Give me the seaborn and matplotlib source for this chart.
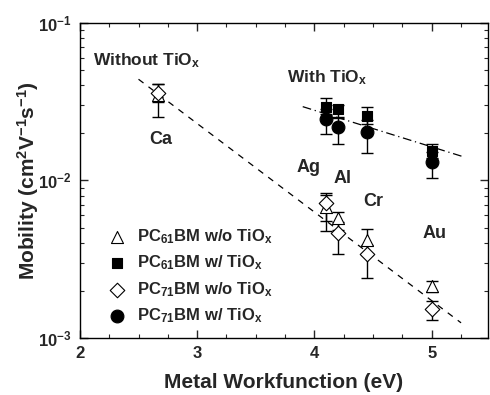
import numpy as np
import pandas as pd
import matplotlib
matplotlib.use('Agg')
import matplotlib.pyplot as plt
import seaborn as sns
from matplotlib.ticker import MultipleLocator, LogLocator

# ── Data ──
metals = ['Ca', 'Ag', 'Al', 'Cr', 'Au']
wf_all = [2.67, 4.1, 4.2, 4.45, 5.0]
wf_tio = [4.1, 4.2, 4.45, 5.0]

pc61_wo = [0.0347, 0.0068, 0.00574, 0.00418, 0.00215]
pc61_wo_lo = [0.0096, 0.0013, 0.0009, 0.0008, 0.0002]
pc61_wo_hi = [0.0060, 0.0013, 0.0006, 0.0007, 0.00016]

pc71_wo = [0.0359, 0.00715, 0.00461, 0.00341, 0.00152]
pc71_wo_lo = [0.0045, 0.0024, 0.0012, 0.0010, 0.00022]
pc71_wo_hi = [0.0050, 0.0012, 0.0008, 0.0005, 0.0002]

pc61_w = [0.0293, 0.0282, 0.0256, 0.0153]
pc61_w_lo = [0.0030, 0.0030, 0.0030, 0.0015]
pc61_w_hi = [0.0040, 0.0020, 0.0037, 0.0016]

pc71_w = [0.0244, 0.0219, 0.0202, 0.0131]
pc71_w_lo = [0.0048, 0.0050, 0.0052, 0.0028]
pc71_w_hi = [0.0040, 0.0030, 0.0040, 0.0020]

# fitted trend lines (end points)
fit_wo_x = [2.5, 5.25]
fit_wo_y = [0.0437, 0.00125]
fit_w_x = [3.9, 5.27]
fit_w_y = [0.0293, 0.0141]

# label positions for the metals
metal_lbl_x = [2.69, 3.95, 4.24, 4.5, 5.02]
metal_lbl_y = [0.0182, 0.0121, 0.0102, 0.0073, 0.0046]

# ── Style ──
sns.set_theme(style="ticks")
plt.rcParams.update({
    'font.family': ['Liberation Sans', 'DejaVu Sans'],
    'font.weight': 'bold',
    'mathtext.fontset': 'custom',
    'mathtext.rm': 'Liberation Sans:bold',
    'mathtext.bf': 'Liberation Sans:bold',
    'mathtext.it': 'Liberation Sans:bold',
    'mathtext.default': 'bf',
    'axes.edgecolor': 'black',
    'axes.linewidth': 1.0,
})

fig = plt.figure(figsize=(4.9, 3.95), dpi=100)
ax = fig.add_axes([0.163, 0.144, 0.833, 0.799])

# trend lines
sns.lineplot(x=fit_wo_x, y=fit_wo_y, ax=ax, color='black', lw=0.9,
             linestyle=(0, (5, 5)), legend=False)
sns.lineplot(x=fit_w_x, y=fit_w_y, ax=ax, color='black', lw=0.9,
             linestyle=(0, (7, 3, 1, 3)), legend=False)

# error bars
series = [
    (wf_all, pc61_wo, pc61_wo_lo, pc61_wo_hi),
    (wf_all, pc71_wo, pc71_wo_lo, pc71_wo_hi),
    (wf_tio, pc61_w, pc61_w_lo, pc61_w_hi),
    (wf_tio, pc71_w, pc71_w_lo, pc71_w_hi),
]
for xs, ys, lo, hi in series:
    ax.errorbar(xs, ys, yerr=[lo, hi], fmt='none', ecolor='black',
                elinewidth=1.0, capsize=4, capthick=1.0, zorder=2)

# markers
labels = [r'PC$_{61}$BM w/o TiO$_{x}$', r'PC$_{61}$BM w/ TiO$_{x}$',
          r'PC$_{71}$BM w/o TiO$_{x}$', r'PC$_{71}$BM w/ TiO$_{x}$']
sns.scatterplot(x=wf_all, y=pc61_wo, ax=ax, marker='^', s=75,
                facecolor='white', edgecolor='black', linewidth=0.8,
                label=labels[0], zorder=3)
sns.scatterplot(x=wf_tio, y=pc61_w, ax=ax, marker='s', s=60,
                color='black', edgecolor='black', linewidth=0.8,
                label=labels[1], zorder=3)
sns.scatterplot(x=wf_all, y=pc71_wo, ax=ax, marker='D', s=55,
                facecolor='white', edgecolor='black', linewidth=0.8,
                label=labels[2], zorder=3)
sns.scatterplot(x=wf_tio, y=pc71_w, ax=ax, marker='o', s=85,
                color='black', edgecolor='black', linewidth=0.8,
                label=labels[3], zorder=3)

# annotations
for name, lx, ly in zip(metals, metal_lbl_x, metal_lbl_y):
    ax.text(lx, ly, name, ha='center', va='center', fontsize=13,
            fontweight='bold')
ax.text(2.11, 0.057, r'Without TiO$_{x}$', ha='left', va='center',
        fontsize=12.5, fontweight='bold')
ax.text(3.77, 0.0445, r'With TiO$_{x}$', ha='left', va='center',
        fontsize=12.5, fontweight='bold')

# axes
ax.set_yscale('log')
ax.set_xlim(2, 5.48)
ax.set_ylim(1e-3, 1e-1)
ax.xaxis.set_major_locator(MultipleLocator(1))
ax.xaxis.set_minor_locator(MultipleLocator(0.25))
ax.yaxis.set_major_locator(LogLocator(base=10))
ax.yaxis.set_minor_locator(LogLocator(base=10, subs=np.arange(2, 10)))
ax.tick_params(which='both', direction='in', top=True, right=True,
               labelsize=12, pad=6)
ax.tick_params(which='major', length=6, width=1)
ax.tick_params(which='minor', length=3, width=0.8)
ax.set_xticks([2, 3, 4, 5])
ax.set_xticklabels(['2', '3', '4', '5'])
for lbl in ax.get_xticklabels() + ax.get_yticklabels():
    lbl.set_fontweight('bold')

ax.set_xlabel('Metal Workfunction (eV)', fontsize=15, fontweight='bold',
              labelpad=8)
ax.set_ylabel(r'Mobility (cm$^{2}$V$^{-1}$s$^{-1}$)', fontsize=15,
              fontweight='bold')
ax.yaxis.set_label_coords(-0.095, 0.5)

leg = ax.legend(loc='lower left', bbox_to_anchor=(0.037, 0.005), frameon=False,
                fontsize=12, handletextpad=0.6, labelspacing=0.45,
                borderaxespad=0.3, handlelength=1.2)
for t in leg.get_texts():
    t.set_fontweight('bold')

fig.savefig('out.png', dpi=100)
